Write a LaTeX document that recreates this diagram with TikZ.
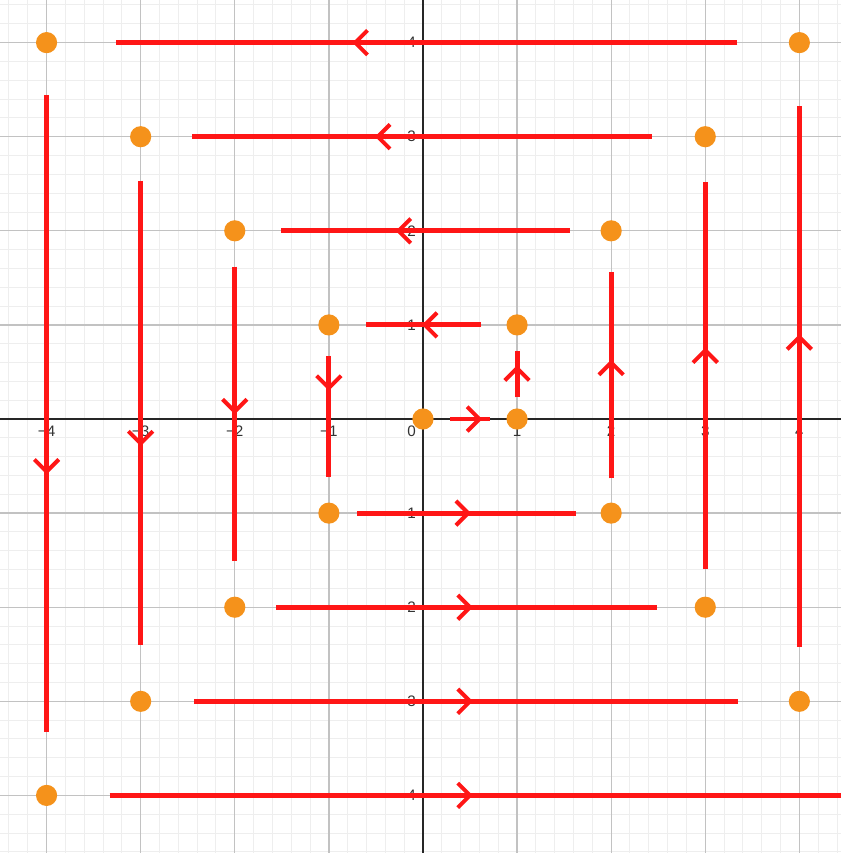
\documentclass[tikz,border=0pt]{standalone}
\usepackage{fontspec}
\setmainfont{Liberation Sans}
\definecolor{minorgrid}{HTML}{EEEEEE}
\definecolor{majorgrid}{HTML}{C2C2C2}
\definecolor{segred}{HTML}{FF1616}
\definecolor{dotorange}{HTML}{F5921B}
\definecolor{labelgray}{HTML}{333333}
\tikzset{
  minorline/.style={draw=minorgrid, line width=0.3pt},
  majorline/.style={draw=majorgrid, line width=0.4pt},
  axisline/.style={draw=black!85, line width=0.5pt},
  segline/.style={draw=segred, line width=1.5pt},
  chevline/.style={draw=segred, line width=1.2pt, line join=miter},
  dotnode/.style={circle, fill=dotorange, inner sep=0pt, minimum size=0.225cm},
  ticklabel/.style={font=\fontsize{4.6}{5.5}\selectfont, text=labelgray, inner sep=0pt}
}
\newcommand\chev[3]{\draw[chevline, shift={(#1,#2)}, rotate=#3] (-0.13,0.13) -- (0,0) -- (-0.13,-0.13);}
\begin{document}
\begin{tikzpicture}
\useasboundingbox (-4.495,-4.612) rectangle (4.442,4.453);
\fill[white] (-4.495,-4.612) rectangle (4.442,4.453);
\begin{scope}
\clip (-4.495,-4.612) rectangle (4.442,4.453);
% minor grid
\foreach \i in {-25,...,25} {
  \draw[minorline] (\i*0.2,-4.7) -- (\i*0.2,4.6);
  \draw[minorline] (-4.6,\i*0.2) -- (4.6,\i*0.2);
}
% major grid
\foreach \i in {-5,...,5} {
  \draw[majorline] (\i,-4.7) -- (\i,4.6);
  \draw[majorline] (-4.6,\i) -- (4.6,\i);
}
% axes
\draw[axisline] (-4.6,0) -- (4.6,0);
\draw[axisline] (0,-4.7) -- (0,4.6);
% tick labels
\foreach \i in {1,2,3,4} {
  \node[ticklabel] (xp\i) at (\i,-0.13) {\i};
  \node[ticklabel] (xn\i) at (-\i,-0.13) {−\i};
  \node[ticklabel, anchor=east] (yp\i) at (-0.07,\i) {\i};
  \node[ticklabel, anchor=east] (yn\i) at (-0.07,-\i) {−\i};
}
\node[ticklabel] (zero) at (-0.12,-0.13) {0};
% segments
\draw[segline] (0.29,0) -- (0.71,0);   \chev{0.6}{0}{0}
\draw[segline] (1,0.23) -- (1,0.72);   \chev{1}{0.54}{90}
\draw[segline] (0.62,1) -- (-0.61,1);  \chev{0.02}{1}{180}
\draw[segline] (-1,0.67) -- (-1,-0.62); \chev{-1}{0.33}{270}
\draw[segline] (-0.70,-1) -- (1.63,-1); \chev{0.48}{-1}{0}
\draw[segline] (2,-0.63) -- (2,1.56);  \chev{2}{0.6}{90}
\draw[segline] (1.56,2) -- (-1.51,2);  \chev{-0.26}{2}{180}
\draw[segline] (-2,1.62) -- (-2,-1.51); \chev{-2}{0.08}{270}
\draw[segline] (-1.56,-2) -- (2.49,-2); \chev{0.5}{-2}{0}
\draw[segline] (3,-1.59) -- (3,2.52);  \chev{3}{0.73}{90}
\draw[segline] (2.43,3) -- (-2.45,3);  \chev{-0.48}{3}{180}
\draw[segline] (-3,2.53) -- (-3,-2.40); \chev{-3}{-0.26}{270}
\draw[segline] (-2.43,-3) -- (3.35,-3); \chev{0.5}{-3}{0}
\draw[segline] (4,-2.42) -- (4,3.33);  \chev{4}{0.87}{90}
\draw[segline] (3.34,4) -- (-3.26,4);  \chev{-0.72}{4}{180}
\draw[segline] (-4,3.44) -- (-4,-3.33); \chev{-4}{-0.56}{270}
\draw[segline] (-3.33,-4) -- (5,-4);   \chev{0.5}{-4}{0}
% dots
\node[dotnode] (p0) at (0,0) {};
\node[dotnode] (p1) at (1,0) {};
\node[dotnode] (p2) at (1,1) {};
\node[dotnode] (p3) at (-1,1) {};
\node[dotnode] (p4) at (-1,-1) {};
\node[dotnode] (p5) at (2,-1) {};
\node[dotnode] (p6) at (2,2) {};
\node[dotnode] (p7) at (-2,2) {};
\node[dotnode] (p8) at (-2,-2) {};
\node[dotnode] (p9) at (3,-2) {};
\node[dotnode] (p10) at (3,3) {};
\node[dotnode] (p11) at (-3,3) {};
\node[dotnode] (p12) at (-3,-3) {};
\node[dotnode] (p13) at (4,-3) {};
\node[dotnode] (p14) at (4,4) {};
\node[dotnode] (p15) at (-4,4) {};
\node[dotnode] (p16) at (-4,-4) {};
\end{scope}
\end{tikzpicture}
\end{document}
